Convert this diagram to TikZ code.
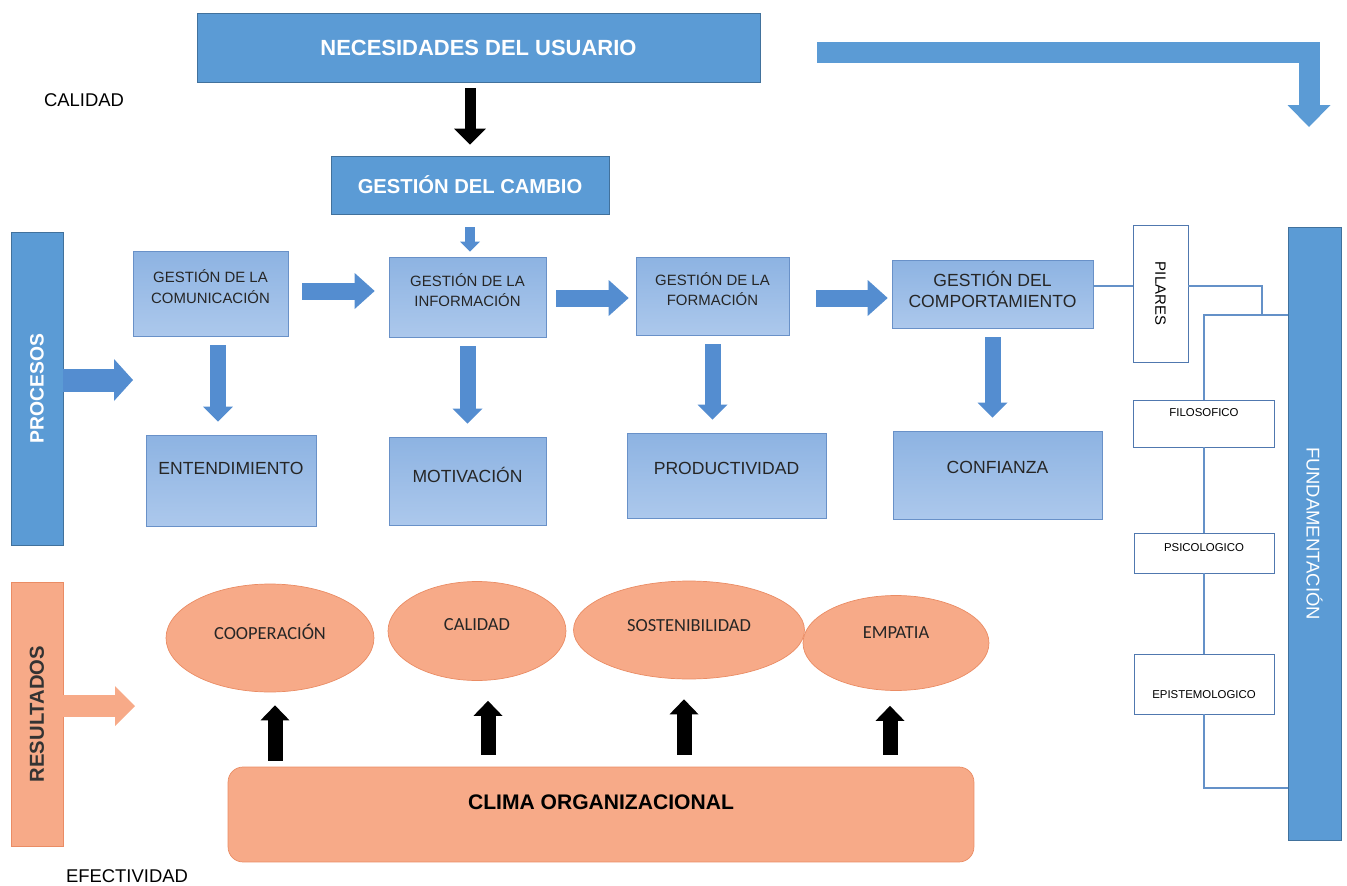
\documentclass[tikz,border=0pt]{standalone}
\usepackage{fontspec}
\setmainfont{Liberation Sans}
\newfontfamily\carlito{Carlito}
\usetikzlibrary{arrows.meta,shapes.geometric}

\definecolor{mainblue}{RGB}{91,155,213}
\definecolor{blueedge}{RGB}{65,113,156}
\definecolor{arrowblue}{RGB}{84,141,208}
\definecolor{gtop}{RGB}{141,179,226}
\definecolor{gbot}{RGB}{172,200,236}
\definecolor{gedge}{RGB}{105,145,200}
\definecolor{lineblue}{RGB}{100,145,200}
\definecolor{pedge}{RGB}{80,120,175}
\definecolor{salmon}{RGB}{247,170,136}
\definecolor{salmonedge}{RGB}{234,140,100}

\begin{document}
\begin{tikzpicture}[x=0.02cm,y=-0.02cm,
    bluebar/.style={draw=blueedge, fill=mainblue, inner sep=0pt},
    gbox/.style={draw=gedge, top color=gtop, bottom color=gbot, text=black!85, align=center, inner sep=0pt},
    pbox/.style={draw=pedge, fill=white, inner sep=0pt, font=\fontsize{6.5}{8}\selectfont},
    oval/.style={ellipse, draw=salmonedge, fill=salmon, inner sep=0pt, text=black!85, font=\carlito\fontsize{10.5}{12}\selectfont},
    harrow/.style={arrowblue, line width=0.34cm, -{Triangle[width=0.72cm,length=0.4cm,line width=0pt]}},
    varrow/.style={arrowblue, line width=0.32cm, -{Triangle[width=0.6cm,length=0.3cm,line width=0pt]}, shorten <=0.18cm, shorten >=0.26cm},
    karrow/.style={black, line width=0.3cm, -{Triangle[width=0.58cm,length=0.3cm,line width=0pt]}},
    pline/.style={lineblue, line width=0.7pt}]
    \useasboundingbox (0,0) rectangle (1347,886);
    %Usuario
    \node[bluebar, minimum width=11.26cm, minimum height=1.38cm, text=white, font=\bfseries\fontsize{12.5}{15}\selectfont] (nec) at (478.5,47.5) {NECESIDADES DEL USUARIO};
    \node[font=\fontsize{10.5}{12}\selectfont] (calidad) at (84,100) {CALIDAD};
    \node[bluebar, minimum width=5.56cm, minimum height=1.16cm, text=white, font=\bfseries\fontsize{11.5}{14}\selectfont] (cambio) at (470,185) {GESTIÓN DEL CAMBIO};
    \draw[black, line width=0.22cm, -{Triangle[width=0.64cm,length=0.32cm,line width=0pt]}, shorten <=0.12cm, shorten >=0.22cm] (cambio.north |- nec.south) -- (cambio.north);
    \coordinate (bendstart) at (817,52.5);
    \coordinate (fundtip) at (1309,127);
    \draw[mainblue, line width=0.42cm, line join=miter, -{Triangle[width=0.86cm,length=0.44cm,line width=0pt]}] (bendstart) -| (fundtip);
    % Procesos
    \node[bluebar, minimum width=1.04cm, minimum height=6.26cm, label={[rotate=90, text=white, font=\bfseries\fontsize{11}{13}\selectfont]center:PROCESOS}] (proc) at (37,388.5) {};
    \coordinate (procend) at (133,380);
    \draw[arrowblue, line width=0.46cm, -{Triangle[width=0.84cm,length=0.38cm,line width=0pt]}] (proc.east |- procend) -- (procend);
    % Gestion
    \node[gbox, minimum width=3.1cm, minimum height=1.7cm, text depth=0.28cm, font=\fontsize{8.5}{11.5}\selectfont] (gcom) at (210.5,293.5) {GESTIÓN DE LA\\COMUNICACIÓN};
    \node[gbox, minimum width=3.14cm, minimum height=1.6cm, text depth=0.28cm, font=\fontsize{8.5}{11.5}\selectfont] (ginf) at (467.5,297) {GESTIÓN DE LA\\INFORMACIÓN};
    \node[gbox, minimum width=3.06cm, minimum height=1.56cm, text depth=0.28cm, font=\fontsize{8.5}{11.5}\selectfont] (gfor) at (712.5,296) {GESTIÓN DE LA\\FORMACIÓN};
    \node[gbox, minimum width=4.02cm, minimum height=1.36cm, text depth=0.2cm, font=\fontsize{10}{12}\selectfont] (gcomp) at (992.5,294) {GESTIÓN DEL\\COMPORTAMIENTO};
    \draw[arrowblue, line width=0.2cm, -{Triangle[width=0.4cm,length=0.2cm,line width=0pt]}, shorten <=0.26cm, shorten >=0.1cm] (cambio.south) -- (cambio.south |- ginf.north);
    \draw[harrow, shorten <=0.28cm, shorten >=0.28cm] (gcom.east |- 0,291) -- (ginf.west |- 0,291);
    \draw[harrow, shorten <=0.2cm, shorten >=0.14cm] (ginf.east |- 0,298) -- (gfor.west |- 0,298);
    \draw[harrow, shorten <=0.54cm, shorten >=0.08cm] (gfor.east |- 0,298) -- (gcomp.west |- 0,298);
    % Efectos
    \node[gbox, minimum width=3.4cm, minimum height=1.82cm, text depth=0.48cm, font=\fontsize{10}{12}\selectfont] (ent) at (231,480.5) {ENTENDIMIENTO};
    \node[gbox, minimum width=3.14cm, minimum height=1.76cm, text depth=0.24cm, font=\fontsize{10}{12}\selectfont] (mot) at (467.5,481) {MOTIVACIÓN};
    \node[gbox, minimum width=3.98cm, minimum height=1.7cm, text depth=0.28cm, font=\fontsize{10}{12}\selectfont] (prod) at (726.5,475.5) {PRODUCTIVIDAD};
    \node[gbox, minimum width=4.18cm, minimum height=1.76cm, text depth=0.32cm, font=\fontsize{10}{12}\selectfont] (conf) at (997.5,475) {CONFIANZA};
    \coordinate (d1) at (218,0);
    \draw[varrow] (gcom.south -| d1) -- (ent.north -| d1);
    \draw[varrow] (ginf.south) -- (ginf.south |- mot.north);
    \draw[varrow] (gfor.south) -- (gfor.south |- prod.north);
    \draw[varrow] (gcomp.south) -- (gcomp.south |- conf.north);
    % Fundamentacion
    \node[pbox, minimum width=1.1cm, minimum height=2.74cm, label={[rotate=-90, font=\fontsize{8.5}{10}\selectfont]center:PILARES}] (pil) at (1160.5,293.5) {};
    \node[bluebar, minimum width=1.06cm, minimum height=12.26cm, label={[rotate=-90, text=white, font=\fontsize{10.5}{12}\selectfont]center:FUNDAMENTACIÓN}] (fund) at (1314.5,533.5) {};
    \node[pbox, minimum width=2.82cm, minimum height=0.94cm, text depth=0.42cm] (filo) at (1204,423.5) {FILOSOFICO};
    \node[pbox, minimum width=2.8cm, minimum height=0.8cm, text depth=0.2cm] (psico) at (1204,553) {PSICOLOGICO};
    \node[pbox, minimum width=2.8cm, minimum height=1.2cm, text height=0.6cm] (epis) at (1204,684) {EPISTEMOLOGICO};
    \coordinate (pl) at (0,286);
    \coordinate (jn) at (1262,315);
    \coordinate (fb) at (0,788);
    \draw[pline] (gcomp.east |- pl) -- (pil.west |- pl);
    \draw[pline] (pil.east |- pl) -| (jn);
    \draw[pline] (fund.west |- jn) -| (filo.north);
    \draw[pline] (filo) -- (psico);
    \draw[pline] (psico) -- (epis);
    \draw[pline] (epis.south) |- (fund.west |- fb);
    % Resultados
    \node[draw=salmonedge, fill=salmon, inner sep=0pt, minimum width=1.04cm, minimum height=5.28cm, label={[rotate=90, text=black!80, font=\bfseries\fontsize{11.5}{13}\selectfont]center:RESULTADOS}] (res) at (37,714) {};
    \coordinate (resend) at (135,706);
    \draw[salmon, line width=0.44cm, -{Triangle[width=0.8cm,length=0.4cm,line width=0pt]}] (res.east |- resend) -- (resend);
    \node[oval, minimum width=4.16cm, minimum height=2.16cm, text depth=0.24cm] (coop) at (270,638) {COOPERACIÓN};
    \node[oval, minimum width=3.56cm, minimum height=1.98cm, text depth=0.24cm] (cal) at (477,631) {CALIDAD};
    \node[oval, minimum width=4.62cm, minimum height=1.96cm, text depth=0.16cm] (sost) at (689,630) {SOSTENIBILIDAD};
    \node[oval, minimum width=3.72cm, minimum height=1.9cm, text depth=0.4cm] (emp) at (896,643) {EMPATIA};
    \node[draw=salmonedge, fill=salmon, rounded corners=0.3cm, minimum width=14.92cm, minimum height=1.9cm, text depth=0.48cm, font=\bfseries\fontsize{12}{14}\selectfont] (clima) at (601,814.5) {CLIMA ORGANIZACIONAL};
    \draw[karrow, shorten <=0.12cm, shorten >=0.26cm] (clima.north -| 275,0) -- (coop.south -| 275,0);
    \draw[karrow, shorten <=0.24cm, shorten >=0.4cm] (clima.north -| 488,0) -- (cal.south -| 488,0);
    \draw[karrow, shorten <=0.24cm, shorten >=0.4cm] (clima.north -| 684,0) -- (sost.south -| 684,0);
    \draw[karrow, shorten <=0.24cm, shorten >=0.3cm] (clima.north -| 890,0) -- (emp.south -| 890,0);
    \node[font=\fontsize{10.5}{12}\selectfont] (efect) at (127,876) {EFECTIVIDAD};
\end{tikzpicture}
\end{document}
